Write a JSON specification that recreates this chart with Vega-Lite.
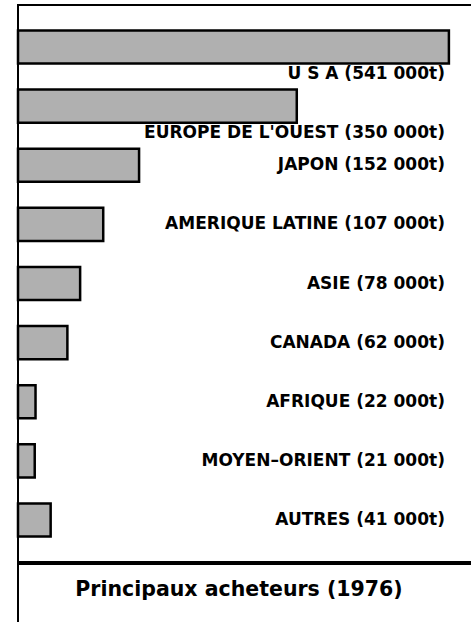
{
  "$schema": "https://vega.github.io/schema/vega-lite/v6.json",
  "padding": {"left": 15, "top": 4, "right": 0, "bottom": 0},
  "background": "white",
  "spacing": 0,
  "config": {
    "view": {"stroke": "black", "strokeWidth": 2},
    "font": "DejaVu Sans"
  },
  "datasets": {
    "buyers": [
      {"pays": "U S A", "label": "U S A (541 000t)", "tonnes": 541},
      {"pays": "EUROPE DE L'OUEST", "label": "EUROPE DE L'OUEST (350 000t)", "tonnes": 350},
      {"pays": "JAPON", "label": "JAPON (152 000t)", "tonnes": 152},
      {"pays": "AMERIQUE LATINE", "label": "AMERIQUE LATINE (107 000t)", "tonnes": 107},
      {"pays": "ASIE", "label": "ASIE (78 000t)", "tonnes": 78},
      {"pays": "CANADA", "label": "CANADA (62 000t)", "tonnes": 62},
      {"pays": "AFRIQUE", "label": "AFRIQUE (22 000t)", "tonnes": 22},
      {"pays": "MOYEN-ORIENT", "label": "MOYEN\u2013ORIENT (21 000t)", "tonnes": 21},
      {"pays": "AUTRES", "label": "AUTRES (41 000t)", "tonnes": 41}
    ],
    "titre": [{"texte": "Principaux acheteurs (1976)", "pos": 0.5}]
  },
  "vconcat": [
    {
      "width": 454,
      "height": 557,
      "data": {"name": "buyers"},
      "encoding": {
        "y": {
          "field": "pays",
          "type": "nominal",
          "sort": null,
          "axis": null,
          "scale": {"paddingInner": 0.44, "paddingOuter": 0.43}
        }
      },
      "layer": [
        {
          "mark": {"type": "bar", "fill": "#b0b0b0", "stroke": "black", "strokeWidth": 2.5},
          "encoding": {
            "x": {
              "field": "tonnes",
              "type": "quantitative",
              "axis": null,
              "scale": {"domain": [0, 570], "nice": false}
            }
          }
        },
        {
          "transform": [{"filter": "datum.tonnes > 300"}],
          "mark": {"type": "text", "align": "right", "baseline": "middle", "dy": 27, "fontSize": 17, "fontWeight": "bold", "color": "black"},
          "encoding": {
            "x": {"datum": 536, "type": "quantitative"},
            "text": {"field": "label"}
          }
        },
        {
          "transform": [{"filter": "datum.tonnes <= 300"}],
          "mark": {"type": "text", "align": "right", "baseline": "middle", "fontSize": 17, "fontWeight": "bold", "color": "black"},
          "encoding": {
            "x": {"datum": 536, "type": "quantitative"},
            "text": {"field": "label"}
          }
        }
      ]
    },
    {
      "width": 454,
      "height": 64,
      "view": {"stroke": "black", "strokeWidth": 2},
      "data": {"name": "titre"},
      "mark": {"type": "text", "align": "center", "baseline": "middle", "dx": -6, "dy": -6, "fontSize": 20.5, "fontWeight": "bold", "color": "black"},
      "encoding": {
        "text": {"field": "texte"}
      }
    }
  ]
}
